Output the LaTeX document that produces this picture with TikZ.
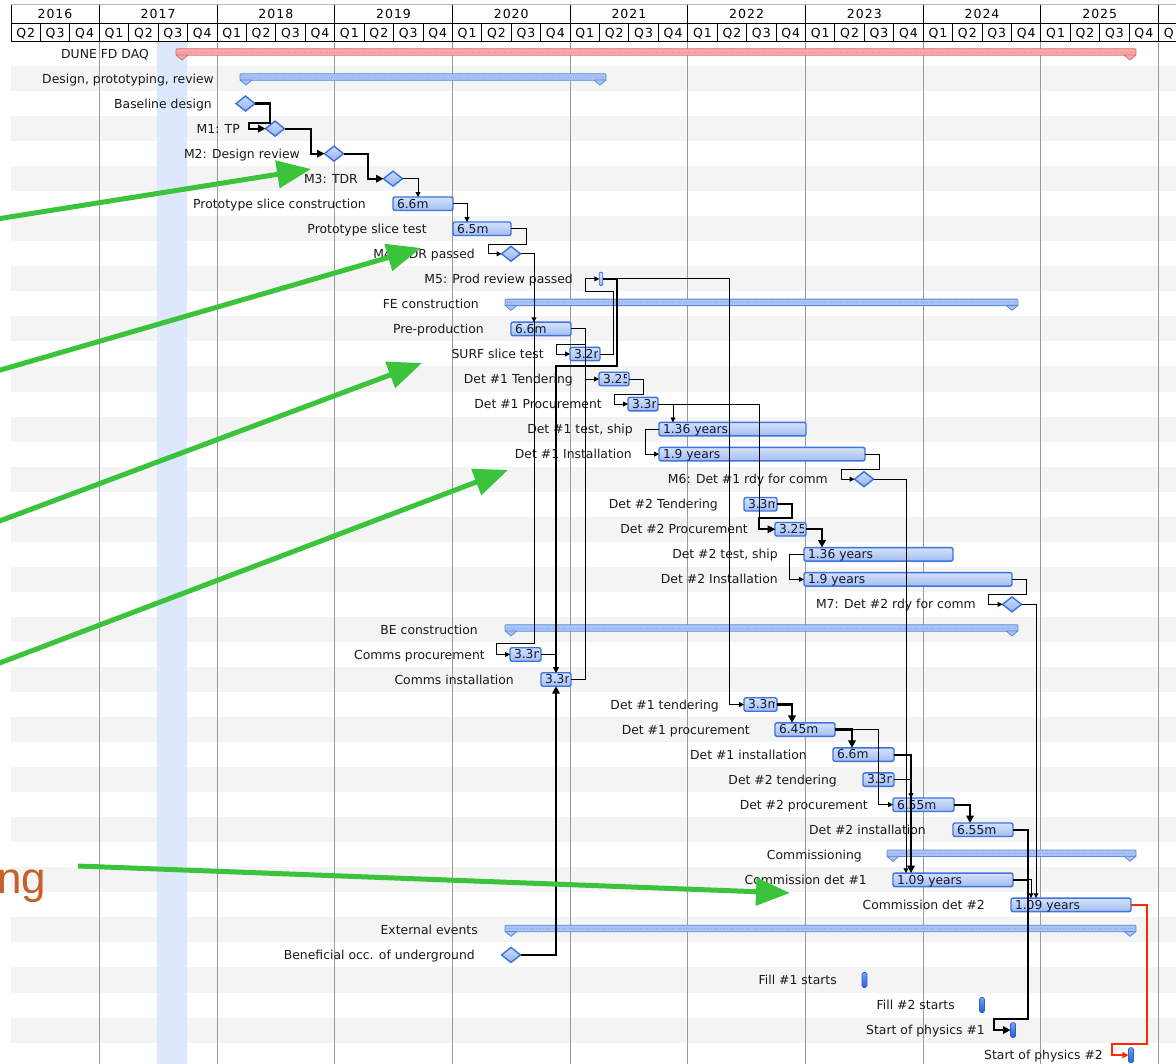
\documentclass[tikz,border=0pt]{standalone}
\usepackage{fontspec}
\setmainfont{DejaVu Sans}
\newfontfamily\hdrfont[LetterSpace=8]{DejaVu Sans}
\newfontfamily\ngfont{Liberation Sans}
\usetikzlibrary{arrows.meta,shapes.geometric}
\definecolor{stripe}{HTML}{F4F4F4}
\definecolor{band}{HTML}{DDE8FC}
\definecolor{gridc}{HTML}{9A9A9A}
\definecolor{barbd}{HTML}{3D74DE}
\definecolor{bartop}{HTML}{D4E2FC}
\definecolor{barbot}{HTML}{A3BCF0}
\definecolor{bartxt}{HTML}{101830}
\definecolor{diabd}{HTML}{3A72DC}
\definecolor{diatop}{HTML}{CADBFB}
\definecolor{diabot}{HTML}{96B3EF}
\definecolor{sumfill}{HTML}{A9C3F3}
\definecolor{sumbd}{HTML}{5B8CE3}
\definecolor{sumdash}{HTML}{86A8EC}
\definecolor{redfill}{HTML}{F6A9A9}
\definecolor{redbd}{HTML}{E26B6B}
\definecolor{reddash}{HTML}{EA8C8C}
\definecolor{mktop}{HTML}{74A0F4}
\definecolor{mkbot}{HTML}{2A5FD0}
\definecolor{lblc}{HTML}{1A1A1A}
\definecolor{greenarr}{HTML}{3BC43B}
\definecolor{orangetxt}{HTML}{C4602A}
\definecolor{redline}{HTML}{FF2A00}

\newcommand\ry[1]{(53.5+25.04*(#1))}
\newcommand\gbar[5]{%
  \node[taskbar, minimum width={(#3)-(#2)}] (#1) at ({((#2)+(#3))/2},{\ry{#4}}) {};
  \begin{scope}
    \clip ([xshift=0.6pt]#1.south west) rectangle ([xshift=-2.4pt]#1.north east);
    \node[barlbl, anchor=base west] (#1t) at ([xshift=3.8pt,yshift=-4.3pt]#1.west) {#5};
  \end{scope}}
\newcommand\sumbar[5]{%
  \node[sumbox, fill=#5fill, draw=#5bd, minimum width={(#3)-(#2)}] (#1) at ({((#2)+(#3))/2},{\ry{#4}-1.5}) {};
  \filldraw[fill=#5fill, draw=#5bd, line width=0.8pt, line join=round] ({#2},{\ry{#4}+1.5}) -- ++(12,0) -- ++(-6,5) -- cycle;
  \filldraw[fill=#5fill, draw=#5bd, line width=0.8pt, line join=round] ({#3},{\ry{#4}+1.5}) -- ++(-12,0) -- ++(6,5) -- cycle;
  \draw[#5dash, line width=0.6pt, dash pattern=on 0.7pt off 1.6pt] ({#2+1.5},{\ry{#4}-1.5}) -- ({#3-1.5},{\ry{#4}-1.5});}
\newcommand\lbl[4]{\node[lbl, anchor=base east] (#1) at (#2,{\ry{#3}+4.6}) {#4};}

\begin{document}
\begin{tikzpicture}[x=1pt,y=-1pt,
  taskbar/.style={rectangle, draw=barbd, line width=1.4pt, rounded corners=2pt, top color=bartop, bottom color=barbot, minimum height=13.5pt, inner sep=0pt, outer sep=0pt},
  barlbl/.style={inner sep=0pt, text=bartxt, font=\fontsize{12.3}{14}\selectfont},
  sumbox/.style={rectangle, minimum height=6.5pt, line width=0.8pt, inner sep=0pt, outer sep=0pt, rounded corners=1pt},
  ms/.style={diamond, draw=diabd, line width=1.4pt, top color=diatop, bottom color=diabot, minimum width=19pt, minimum height=15pt, inner sep=0pt, outer sep=0pt},
  mk/.style={rectangle, rounded corners=1.5pt, minimum width=5pt, minimum height=15pt, inner sep=0pt, outer sep=0pt, draw=mkbot, line width=0.6pt, top color=mktop, bottom color=mkbot},
  lbl/.style={inner sep=0pt, text=lblc, font=\fontsize{12.4}{14}\selectfont},
  hdr/.style={inner sep=0pt, text=black, font=\hdrfont\fontsize{12.5}{14}\selectfont},
  thn/.style={draw=black, line width=0.9pt},
  thk/.style={draw=black, line width=2.2pt},
  arr/.style={-{Triangle[length=3pt 2,width=3pt 2]}},
  garr/.style={draw=greenarr, line width=5pt, -{Triangle[length=34pt,width=27pt]}}
]
\clip (0,0) rectangle (1176,1064);
\fill[white] (0,0) rectangle (1176,1064);
% stripes
\foreach \i in {1,3,...,39} {\fill[stripe] (11,{\ry{\i}-12.52}) rectangle (1176,{\ry{\i}+12.52});}
% highlight band
\fill[band] (157,41) rectangle (187,1064);
% year grid lines
\foreach \j in {1,...,10} {\pgfmathsetmacro\xx{11+29.425*(4*\j-1)}
  \draw[gridc, line width=0.9pt] (\xx,41) -- (\xx,1064);}
% header
\fill[white] (11,5) rectangle (1176,41);
\draw[gridc!70, line width=1pt] (11,5) -- (1176,5);
\draw[black, line width=0.9pt] (11,23) -- (1176,23) (11,41) -- (1176,41) (11,5) -- (11,41);
\foreach \k in {1,...,39} {\pgfmathsetmacro\xx{11+29.425*\k}
  \draw[black, line width=0.9pt] (\xx,23) -- (\xx,41);}
\foreach \k in {3,7,...,39} {\pgfmathsetmacro\xx{11+29.425*\k}
  \draw[black, line width=0.9pt] (\xx,5) -- (\xx,23);}
\foreach \k in {0,...,39} {\pgfmathtruncatemacro\qn{mod(\k+1,4)+1}\pgfmathsetmacro\xx{11+29.425*(\k+0.5)}
  \node[hdr, anchor=base] (q\k) at (\xx,37.2) {Q\qn};}
\node[hdr, anchor=base] (y0) at (55,18.3) {2016};
\foreach \j in {1,...,10} {\pgfmathtruncatemacro\yr{2016+\j}\pgfmathsetmacro\xx{11+29.425*(4*\j+1)}
  \node[hdr, anchor=base] (y\j) at (\xx,18.3) {\yr};}

% summary bars
\sumbar{dune}{176}{1136}{0}{red}
\sumbar{dpr}{240}{606}{1}{sum}
\sumbar{fe}{505}{1018}{10}{sum}
\sumbar{be}{505}{1018}{23}{sum}
\sumbar{comm}{887}{1136}{32}{sum}
\sumbar{ext}{505}{1136}{35}{sum}

% task bars
\gbar{psc}{393}{453}{6}{6.6m}
\gbar{pst}{453}{511}{7}{6.5m}
\gbar{pp}{511}{571}{11}{6.6m}
\gbar{surf}{570}{600}{12}{3.2m}
\gbar{t1}{599}{629}{13}{3.25m}
\gbar{p1}{628}{658}{14}{3.3m}
\gbar{ts1}{659}{806}{15}{1.36 years}
\gbar{in1}{659}{865}{16}{1.9 years}
\gbar{t2}{744}{777}{18}{3.3m}
\gbar{p2}{775}{806}{19}{3.25m}
\gbar{ts2}{804}{953}{20}{1.36 years}
\gbar{in2}{804}{1012}{21}{1.9 years}
\gbar{cp}{510}{541}{24}{3.3m}
\gbar{ci}{541}{571}{25}{3.3m}
\gbar{bt1}{744}{777}{26}{3.3m}
\gbar{bp1}{775}{835}{27}{6.45m}
\gbar{bi1}{833}{894}{28}{6.6m}
\gbar{bt2}{863}{894}{29}{3.3m}
\gbar{bp2}{893}{954}{30}{6.55m}
\gbar{bi2}{953}{1013}{31}{6.55m}
\gbar{cd1}{893}{1013}{33}{1.09 years}
\gbar{cd2}{1011}{1131}{34}{1.09 years}

% milestones
\node[ms] (bd) at (245.5,{\ry{2}}) {};
\node[ms] (m1) at (275,{\ry{3}}) {};
\node[ms] (m2) at (334,{\ry{4}}) {};
\node[ms] (m3) at (393,{\ry{5}}) {};
\node[ms] (m4) at (511,{\ry{8}}) {};
\node[ms] (m6) at (864,{\ry{17}}) {};
\node[ms] (m7) at (1012,{\ry{22}}) {};
\node[ms] (bo) at (511,{\ry{36}}) {};
\node[taskbar, rounded corners=1pt, minimum width=3.5pt, minimum height=13pt, line width=0.9pt] (m5) at (601,{\ry{9}}) {};
\node[mk] (f1) at (864.5,{\ry{37}}) {};
\node[mk] (f2) at (982,{\ry{38}}) {};
\node[mk] (sp1) at (1013,{\ry{39}}) {};
\node[mk] (sp2) at (1131,{\ry{40}}) {};

% labels
\lbl{l0}{149}{0}{DUNE FD DAQ}
\lbl{l1}{214}{1}{Design, prototyping, review}
\lbl{l2}{212}{2}{Baseline design}
\lbl{l3}{240}{3}{M1: TP}
\lbl{l4}{300}{4}{M2: Design review}
\lbl{l5}{358}{5}{M3: TDR}
\lbl{l6}{366}{6}{Prototype slice construction}
\lbl{l7}{427}{7}{Prototype slice test}
\lbl{l8}{475}{8}{M4: PDR passed}
\lbl{l9}{573}{9}{M5: Prod review passed}
\lbl{l10}{479}{10}{FE construction}
\lbl{l11}{484}{11}{Pre-production}
\lbl{l12}{544}{12}{SURF slice test}
\lbl{l13}{573}{13}{Det \#1 Tendering}
\lbl{l14}{602}{14}{Det \#1 Procurement}
\lbl{l15}{633}{15}{Det \#1 test, ship}
\lbl{l16}{632}{16}{Det \#1 Installation}
\lbl{l17}{828}{17}{M6: Det \#1 rdy for comm}
\lbl{l18}{718}{18}{Det \#2 Tendering}
\lbl{l19}{748}{19}{Det \#2 Procurement}
\lbl{l20}{778}{20}{Det \#2 test, ship}
\lbl{l21}{778}{21}{Det \#2 Installation}
\lbl{l22}{976}{22}{M7: Det \#2 rdy for comm}
\lbl{l23}{478}{23}{BE construction}
\lbl{l24}{485}{24}{Comms procurement}
\lbl{l25}{514}{25}{Comms installation}
\lbl{l26}{719}{26}{Det \#1 tendering}
\lbl{l27}{750}{27}{Det \#1 procurement}
\lbl{l28}{807}{28}{Det \#1 installation}
\lbl{l29}{837}{29}{Det \#2 tendering}
\lbl{l30}{868}{30}{Det \#2 procurement}
\lbl{l31}{926}{31}{Det \#2 installation}
\lbl{l32}{862}{32}{Commissioning}
\lbl{l33}{867}{33}{Commission det \#1}
\lbl{l34}{985}{34}{Commission det \#2}
\lbl{l35}{478}{35}{External events}
\lbl{l36}{475}{36}{Beneficial occ. of underground}
\lbl{l37}{837}{37}{Fill \#1 starts}
\lbl{l38}{955}{38}{Fill \#2 starts}
\lbl{l39}{985}{39}{Start of physics \#1}
\lbl{l40}{1103}{40}{Start of physics \#2}

% connectors
\draw[thk,arr] (bd.east) -| (270,123) -| (249,{\ry{3}}) -- (m1.west);
\draw[thk,arr] (m1.east) -| (311,{\ry{4}}) -- (m2.west);
\draw[thk,arr] (m2.east) -| (368,{\ry{5}}) -- (m3.west);
\draw[thn,arr] (m3.east) -| ([xshift=25pt]psc.north west);
\draw[thn,arr] (psc.east) -| ([xshift=14pt]pst.north west);
\draw[thn,arr] (pst.east) -| (526,244) -| (488,{\ry{8}}) -- (m4.west);
\draw[thn,arr] (m4.east) -| ([xshift=23pt]pp.north west);
\draw[thn,arr] (m4.east) -| (534,643) -| (496,{\ry{24}}) -- (cp.west);
\draw[thn,arr] (pp.east) -| (585,344) -| (556,{\ry{12}}) -- (surf.west);
\draw[thn,arr] (pp.east) -| (585,{\ry{13}}) -- (t1.west);
\draw[thn] (ci.east) -| (585,{\ry{13}});
\draw[thn,arr] (surf.east) -| (613,291) -| (585,{\ry{9}}) -- (m5.west);
\draw[thn,arr] (m5.east) -| (729,{\ry{26}}) -- (bt1.west);
\draw[thn,line width=1.3pt,arr] (m5.east) -| (617,366) -| (ci.north);
\draw[thn,arr] (cp.east) -| (ci.north);
\draw[thk,arr] (bo.east) -| (ci.south);
\draw[thn,arr] (t1.east) -| (643,394) -| (614,{\ry{14}}) -- (p1.west);
\draw[thn,arr] (p1.east) -| ([xshift=14pt]ts1.north west);
\draw[thn,arr] (p1.east) -| (759,{\ry{19}}) -- (p2.west);
\draw[thn,arr] (ts1.west) -- ++(-14,0) |- (in1.west);
\draw[thn,arr] (in1.east) -| (879,469) -| (841,{\ry{17}}) -- (m6.west);
\draw[thn,arr] (m6.east) -| ([xshift=13pt]cd1.north west);
\draw[thk,arr] (t2.east) -| (792,518) -| (759,{\ry{19}}) -- (p2.west);
\draw[thk,arr] (p2.east) -| ([xshift=18pt]ts2.north west);
\draw[thn,arr] (ts2.west) -- ++(-15,0) |- (in2.west);
\draw[thn,arr] (in2.east) -| (1026,594) -| (988,{\ry{22}}) -- (m7.west);
\draw[thn,arr] (m7.east) -| ([xshift=25pt]cd2.north west);
\draw[thk,arr] (bt1.east) -| ([xshift=17pt]bp1.north west);
\draw[thk,arr] (bp1.east) -| ([xshift=19pt]bi1.north west);
\draw[thn,arr] (bp1.east) -| (878,{\ry{30}}) -- (bp2.west);
\draw[thk,arr] (bi1.east) -| ([xshift=18pt]cd1.north west);
\draw[thn,arr] (bt2.east) -| ([xshift=18pt]bp2.north west);
\draw[thk,arr] (bp2.east) -| ([xshift=17pt]bi2.north west);
\draw[thk,arr] (bi2.east) -| (1028,1019) -| (994,{\ry{39}}) -- (sp1.west);
\draw[thk] (cd1.east) -| (1028,1019);
\draw[thn,arr] (cd1.east) -| ([xshift=20pt]cd2.north west);
\draw[draw=redline, line width=1.6pt, arr] (cd2.east) -| (1147,1044) -| (1112,{\ry{40}}) -- (sp2.west);

% overlay arrows
\coordinate (g1s) at (-3,219); \coordinate (g1e) at (311,169);
\coordinate (g2s) at (-3,371); \coordinate (g2e) at (421,248);
\coordinate (g3s) at (-3,522); \coordinate (g3e) at (422,363);
\coordinate (g4s) at (-3,664); \coordinate (g4e) at (508,470);
\coordinate (g5s) at (78,866); \coordinate (g5e) at (790,893);
\draw[garr] (g1s) -- (g1e);
\draw[garr] (g2s) -- (g2e);
\draw[garr] (g3s) -- (g3e);
\draw[garr] (g4s) -- (g4e);
\draw[garr] (g5s) -- (g5e);
\node[inner sep=0pt, anchor=base west, text=orangetxt, font=\ngfont\fontsize{44}{44}\selectfont] (ng) at (-3,893) {ng};
\end{tikzpicture}
\end{document}
